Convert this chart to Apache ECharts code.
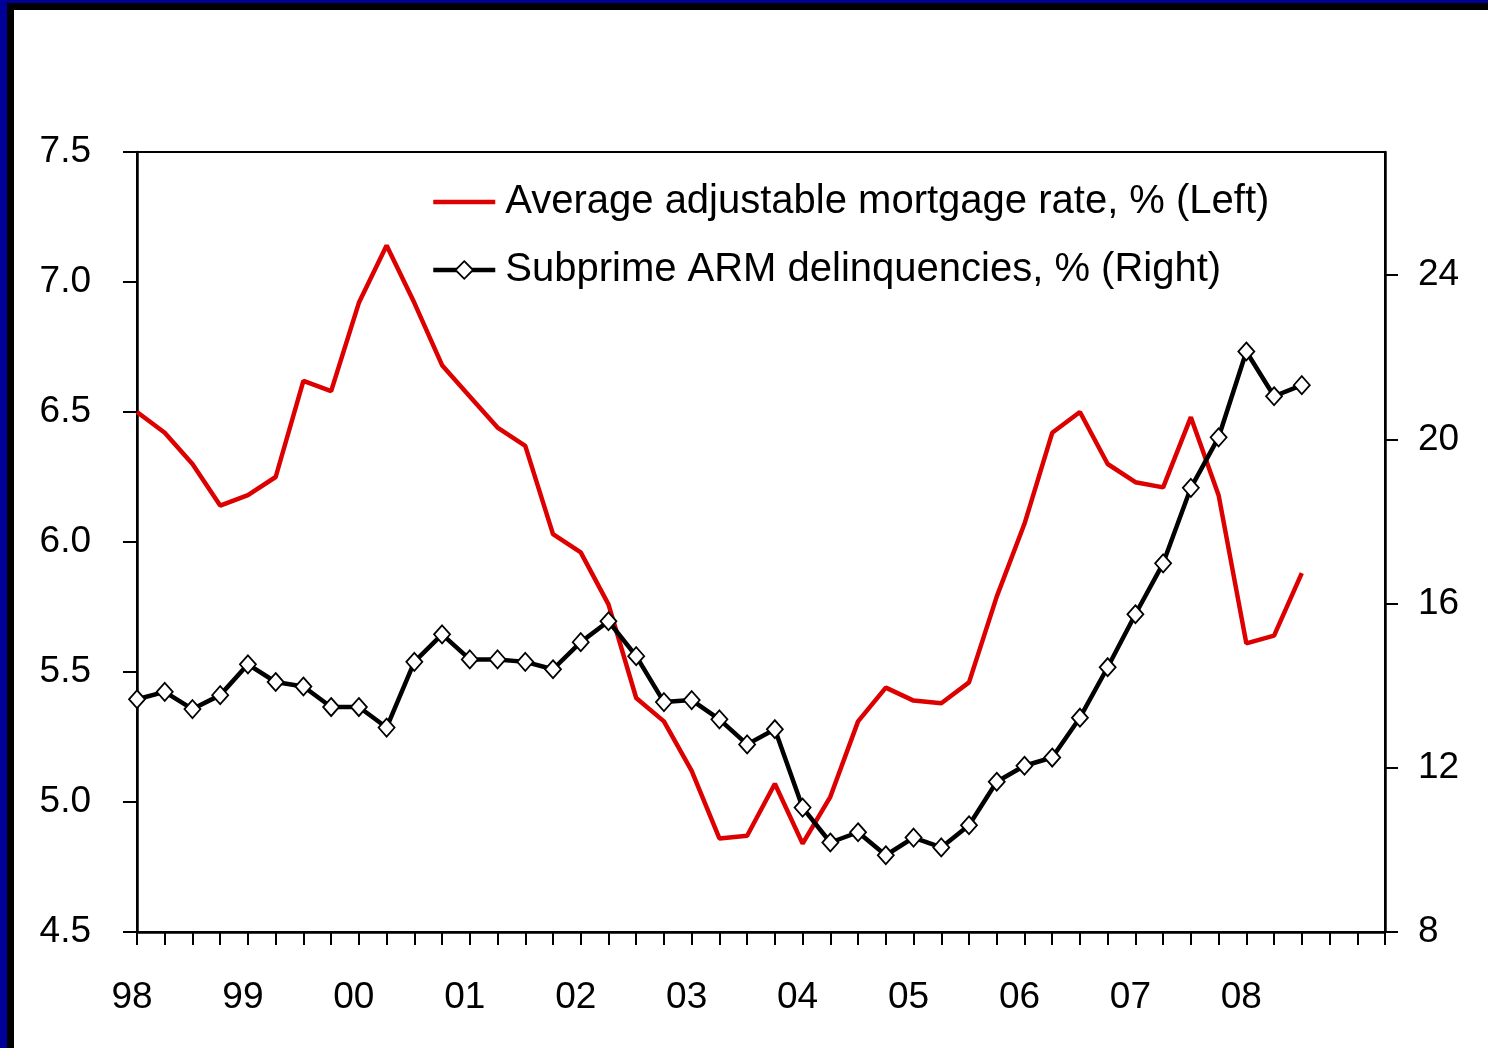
<!DOCTYPE html>
<html>
<head>
<meta charset="utf-8">
<script src="https://cdn.jsdelivr.net/npm/echarts@6/dist/echarts.min.js"></script>
<style>
  html, body { margin: 0; padding: 0; background: #fff; }
  #chart { width: 1488px; height: 1048px; }
</style>
</head>
<body>
<div id="chart"></div>
<script>
// Quarterly axis: 1998Q1 .. 2009Q2, year labels on Q1
const years = ['98', '99', '00', '01', '02', '03', '04', '05', '06', '07', '08', '09'];
const yearLabels = ['98', '99', '00', '01', '02', '03', '04', '05', '06', '07', '08'];
const quarterCount = 46;

// Average adjustable mortgage rate, % (left axis)
const armRate = [
  6.50, 6.42, 6.30, 6.14, 6.18, 6.25, 6.62, 6.58, 6.92, 7.14,
  6.92, 6.68, 6.56, 6.44, 6.37, 6.03, 5.96, 5.76, 5.40, 5.31,
  5.12, 4.86, 4.87, 5.07, 4.84, 5.02, 5.31, 5.44, 5.39, 5.38,
  5.46, 5.79, 6.07, 6.42, 6.50, 6.30, 6.23, 6.21, 6.48, 6.18,
  5.61, 5.64, 5.88
];

// Subprime ARM delinquencies, % (right axis)
const subprimeDelinq = [
  13.67, 13.85, 13.43, 13.77, 14.52, 14.09, 13.98, 13.48, 13.48, 12.98,
  14.58, 15.25, 14.64, 14.64, 14.58, 14.40, 15.06, 15.57, 14.72, 13.60,
  13.65, 13.18, 12.57, 12.94, 11.03, 10.18, 10.43, 9.87, 10.30, 10.06,
  10.60, 11.66, 12.05, 12.25, 13.22, 14.45, 15.74, 16.98, 18.82, 20.05,
  22.14, 21.05, 21.32
];

const leftTicks = { min: 4.5, max: 7.5, interval: 0.5 };
const rightTickValues = [8, 12, 16, 20, 24];
const rightRange = { min: 8, max: 27 };

const seriesNames = [
  'Average adjustable mortgage rate, % (Left)',
  'Subprime ARM delinquencies, % (Right)'
];

const quarters = [];
for (let i = 0; i < quarterCount; i++) {
  quarters.push(years[Math.floor(i / 4)] + 'Q' + (i % 4 + 1));
}

const RED = '#dd0000';
const FONT = '"Liberation Sans", Arial, Helvetica, sans-serif';
const chart = echarts.init(document.getElementById('chart'), null, { renderer: 'canvas' });

chart.setOption({
  animation: false,
  backgroundColor: '#ffffff',
  textStyle: { fontFamily: FONT },
  graphic: [
    // frame bands along the top and left edges
    { type: 'rect', left: 0, top: 0, shape: { width: 1488, height: 10 }, style: { fill: '#000000' }, z: 100 },
    { type: 'rect', left: 0, top: 0, shape: { width: 14, height: 1048 }, style: { fill: '#000000' }, z: 100 },
    { type: 'rect', left: 0, top: 0, shape: { width: 1488, height: 3 }, style: { fill: '#000099' }, z: 101 },
    { type: 'rect', left: 0, top: 0, shape: { width: 7, height: 1048 }, style: { fill: '#000099' }, z: 101 }
  ],
  grid: {
    left: 137, right: 103, top: 152, bottom: 116,
    show: true, borderColor: '#000', borderWidth: 2, backgroundColor: 'transparent'
  },
  legend: {
    orient: 'vertical',
    left: 426, top: 176,
    itemWidth: 62, itemHeight: 22, itemGap: 26,
    data: [
      {
        name: seriesNames[0],
        itemStyle: { color: 'transparent', borderColor: 'transparent', borderWidth: 0 },
        lineStyle: { color: RED, width: 4.5 }
      },
      {
        name: seriesNames[1],
        itemStyle: { color: '#fff', borderColor: '#000', borderWidth: 1.8 },
        lineStyle: { color: '#000', width: 4.5 }
      }
    ],
    textStyle: { fontFamily: FONT, fontSize: 40, color: '#000', lineHeight: 42, padding: [0, 0, 0, 5] }
  },
  xAxis: {
    type: 'category',
    data: quarters,
    boundaryGap: false,
    axisLine: { lineStyle: { color: '#000', width: 2.5 } },
    axisTick: { show: true, interval: 0, length: 13, lineStyle: { color: '#000', width: 2 } },
    axisLabel: {
      interval: 0,
      margin: 47,
      fontSize: 37,
      color: '#000',
      fontFamily: FONT,
      padding: [0, 10, 0, 0],
      formatter: function (v, idx) {
        if (idx % 4 !== 0) return '';
        const y = years[idx / 4];
        return yearLabels.indexOf(y) >= 0 ? y : '';
      }
    },
    splitLine: { show: false }
  },
  yAxis: [
    {
      type: 'value',
      position: 'left',
      min: leftTicks.min, max: leftTicks.max, interval: leftTicks.interval,
      axisLine: { show: true, lineStyle: { color: '#000', width: 2.5 } },
      axisTick: { show: true, length: 14, lineStyle: { color: '#000', width: 2 } },
      axisLabel: {
        margin: 46, fontSize: 37, color: '#000', fontFamily: FONT,
        padding: [10, 0, 0, 0],
        formatter: v => v.toFixed(1)
      },
      splitLine: { show: false }
    },
    {
      type: 'value',
      position: 'right',
      min: rightRange.min, max: rightRange.max,
      axisLine: { show: true, lineStyle: { color: '#000', width: 2.5 } },
      axisTick: { show: true, length: 13, customValues: rightTickValues, lineStyle: { color: '#000', width: 2 } },
      axisLabel: {
        margin: 33, fontSize: 37, color: '#000', fontFamily: FONT,
        padding: [10, 0, 0, 0],
        customValues: rightTickValues
      },
      splitLine: { show: false }
    }
  ],
  series: [
    {
      name: seriesNames[0],
      type: 'line',
      yAxisIndex: 0,
      data: armRate,
      symbol: 'none',
      lineStyle: { color: RED, width: 4.5 },
      itemStyle: { color: RED },
      z: 2
    },
    {
      name: seriesNames[1],
      type: 'line',
      yAxisIndex: 1,
      data: subprimeDelinq,
      symbol: 'diamond',
      symbolSize: [16, 18],
      showAllSymbol: true,
      lineStyle: { color: '#000', width: 4.5 },
      itemStyle: { color: '#fff', borderColor: '#000', borderWidth: 1.8 },
      z: 3
    }
  ]
});
</script>
</body>
</html>
